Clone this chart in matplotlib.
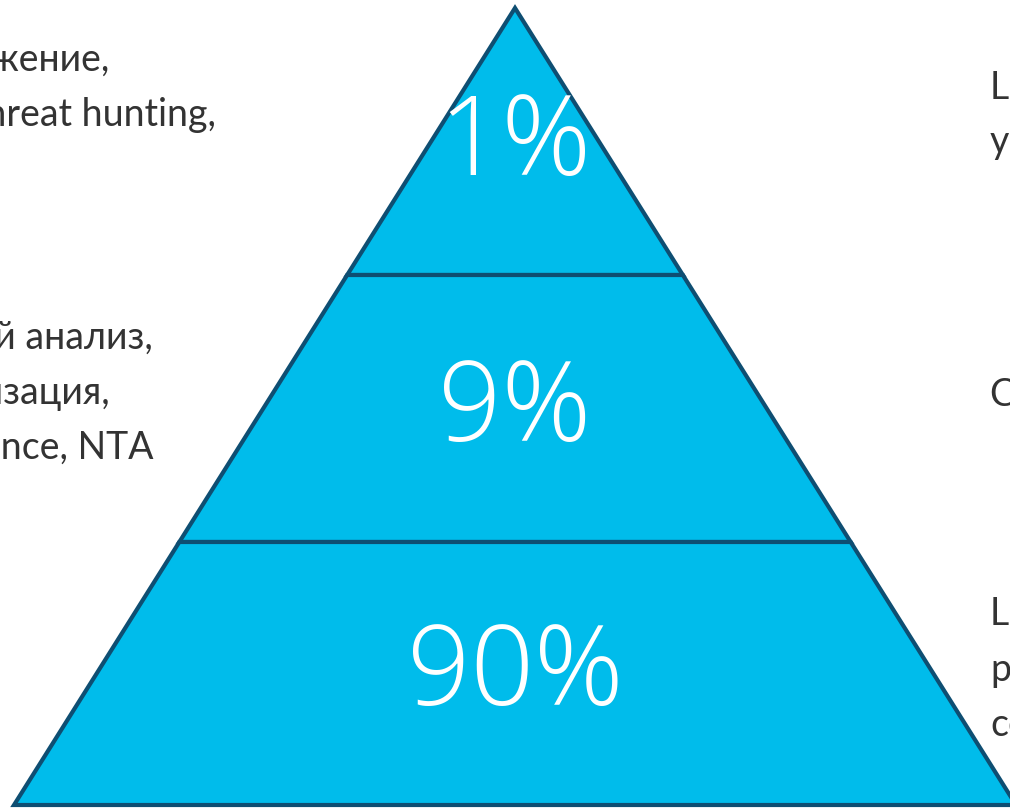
import matplotlib.pyplot as plt
from matplotlib.patches import Polygon

# pyramid tiers (top to bottom)
tier_labels = ["1%", "9%", "90%"]
tier_edges = [8, 275, 542, 805]      # levels of the tier boundaries
label_levels = [146, 412, 676]
apex_x = 515
half_base = 501

# side texts (only partly visible in the crop)
left_lines = ["Обнаружение,", "threat hunting,",
              "Поведенческий анализ,", "автоматизация,", "threat intelligence, NTA"]
left_ends = [110, 216, 153, 111, 154]
left_levels = [60, 115, 338, 393, 448]

right_lines = ["L3: эксперты,", "узкий круг",
               "Сигнатуры и IOC",
               "L1: базовые", "рутинные", "события"]
right_levels = [88, 142, 395, 614, 670, 725]

FILL = "#00BCEB"
EDGE = "#0E4E72"
TXT = "#333333"

fig = plt.figure(figsize=(10.10, 8.09), dpi=100)
ax = fig.add_axes([0, 0, 1, 1])
ax.set_xlim(0, 1010)
ax.set_ylim(809, 0)
ax.axis("off")

height = tier_edges[-1] - tier_edges[0]


def half_width(y):
    return half_base * (y - tier_edges[0]) / height


for i, lab in enumerate(tier_labels):
    y0, y1 = tier_edges[i], tier_edges[i + 1]
    w0, w1 = half_width(y0), half_width(y1)
    pts = [(apex_x - w0, y0), (apex_x + w0, y0), (apex_x + w1, y1), (apex_x - w1, y1)]
    ax.add_patch(Polygon(pts, closed=True, facecolor=FILL, edgecolor=EDGE,
                         linewidth=3, joinstyle="miter", clip_on=False))
    ax.text(apex_x, label_levels[i], lab, ha="center", va="center",
            fontsize=80, color="white", family="Open Sans", fontweight="light")

for s, xe, y in zip(left_lines, left_ends, left_levels):
    ax.text(xe, y, s, ha="right", va="center", fontsize=27, color=TXT, family="Lato")

for s, y in zip(right_lines, right_levels):
    ax.text(990, y, s, ha="left", va="center", fontsize=27, color=TXT, family="Lato")

fig.savefig("out.png", dpi=100)
